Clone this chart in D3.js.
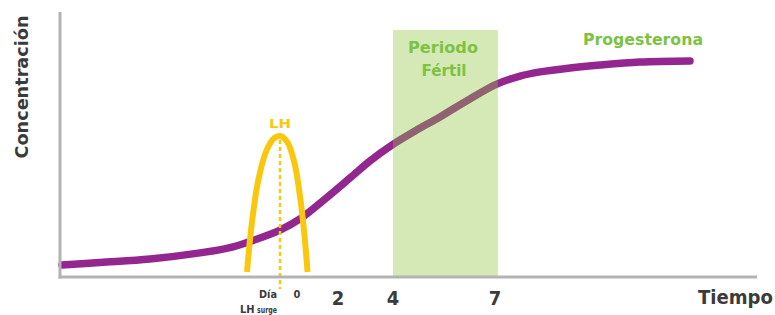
<!DOCTYPE html>
<html><head><meta charset="utf-8">
<script src="https://cdn.jsdelivr.net/npm/d3@7"></script>
<style>
html,body{margin:0;padding:0;background:#fff;}
text{font-family:"DejaVu Sans Condensed","DejaVu Sans",sans-serif;font-weight:bold;}
</style></head>
<body><svg id="chart" width="775" height="315"></svg>
<script>
// ---- data ----
const progDays   = [-7.93, -6.55, -4.73, -2.91, -1.82, -1.09, 0, 0.69, 1.55, 2.44, 3.16, 3.96, 4.65, 5.38, 6.26, 7.06, 7.86, 8.55, 9.58, 10.61, 11.98, 13.7];
const progValues = [4.5, 5.5, 6.8, 9.1, 11.1, 13.4, 17.7, 21.9, 29.4, 37.4, 43.8, 49.8, 55.1, 60.4, 67.2, 72.8, 75.8, 77.4, 78.9, 80.0, 81.1, 81.5];
const lhDays   = [-1.2, -1.05, -0.8, -0.5, -0.2, 0, 0.25, 0.5, 0.72, 0.85, 0.95];
const lhValues = [1.9, 18, 36, 47.5, 52.5, 53.2, 51, 43, 28, 15, 1.9];
const tickDays   = [2, 4, 7];
const tickLabels = ["2", "4", "7"];
const dayZeroLabel = ["Día", "0"];
const surgeLabel = ["LH", "surge"];
const fertileWindow = [4, 7.1];
const labels = {y: "Concentración", x: "Tiempo", prog: "Progesterona", lh: "LH", fertile: ["Periodo", "Fértil"]};

// ---- scales ----
const svg = d3.select("#chart");
const x = d3.scaleLinear().domain([-8, 0, 2, 4, 7, 16]).range([60, 280, 338, 393, 495, 757]);
const y = d3.scaleLinear().domain([0, 100]).range([277, 12]);

const purple = "#93278f", yellow = "#f9c80e", green = "#7dc242", axisCol = "#b3b3b3", dark = "#3b3b3b";

// progesterone curve
svg.append("path")
  .datum(progDays.map((d, i) => [d, progValues[i]]))
  .attr("fill", "none").attr("stroke", purple).attr("stroke-width", 7.5).attr("stroke-linecap", "round")
  .attr("d", d3.line().x(d => x(d[0])).y(d => y(d[1])).curve(d3.curveCatmullRom.alpha(0.5)));

// fertile window (translucent over curve)
svg.append("rect")
  .attr("x", x(fertileWindow[0])).attr("y", 30)
  .attr("width", x(fertileWindow[1]) - x(fertileWindow[0])).attr("height", y(0) - 30)
  .attr("fill", "#8dc63f").attr("opacity", 0.38);

// LH curve
svg.append("path")
  .datum(lhDays.map((d, i) => [d, lhValues[i]]))
  .attr("fill", "none").attr("stroke", yellow).attr("stroke-width", 6)
  .attr("d", d3.line().x(d => x(d[0])).y(d => y(d[1])).curve(d3.curveCatmullRom));

// dashed LH surge line
svg.append("line")
  .attr("x1", x(0)).attr("x2", x(0)).attr("y1", y(d3.max(lhValues)) + 4).attr("y2", 289)
  .attr("stroke", yellow).attr("stroke-width", 2.5).attr("stroke-dasharray", "4,3");

// axes
svg.append("line").attr("x1", 60).attr("x2", 60).attr("y1", y(100)).attr("y2", y(0) + 1.5)
  .attr("stroke", axisCol).attr("stroke-width", 3);
svg.append("line").attr("x1", 58.5).attr("x2", 757).attr("y1", y(0)).attr("y2", y(0))
  .attr("stroke", axisCol).attr("stroke-width", 3);

// tick labels
svg.selectAll(".tick").data(tickDays).enter().append("text")
  .attr("x", d => x(d)).attr("y", 305).attr("text-anchor", "middle")
  .attr("font-size", 20).attr("fill", dark).text((d, i) => tickLabels[i]);
svg.append("text").attr("x", x(0) - 12).attr("y", 298).attr("text-anchor", "middle")
  .attr("font-size", 11).attr("fill", dark).attr("textLength", 18).attr("lengthAdjust", "spacingAndGlyphs").text(dayZeroLabel[0]);
svg.append("text").attr("x", x(0) + 17).attr("y", 298).attr("text-anchor", "middle")
  .attr("font-size", 11).attr("fill", dark).text(dayZeroLabel[1]);
svg.append("text").attr("x", 240).attr("y", 313).attr("font-size", 11).attr("fill", dark).text(surgeLabel[0]);
svg.append("text").attr("x", 257).attr("y", 313).attr("font-size", 9).attr("fill", dark)
  .attr("textLength", 20).attr("lengthAdjust", "spacingAndGlyphs").text(surgeLabel[1]);

// axis titles
svg.append("text").attr("transform", "translate(28,87) rotate(-90)").attr("text-anchor", "middle")
  .attr("font-size", 17).attr("fill", dark).attr("textLength", 143).attr("lengthAdjust", "spacingAndGlyphs").text(labels.y);
svg.append("text").attr("x", 698).attr("y", 304).attr("font-size", 19).attr("fill", dark)
  .attr("textLength", 75).attr("lengthAdjust", "spacingAndGlyphs").text(labels.x);

// series labels
svg.append("text").attr("x", 583).attr("y", 45).attr("font-size", 15).attr("fill", green)
  .attr("textLength", 120).attr("lengthAdjust", "spacingAndGlyphs").text(labels.prog);
svg.append("text").attr("x", x(0)).attr("y", y(d3.max(lhValues)) - 8).attr("text-anchor", "middle")
  .attr("font-size", 12).attr("fill", yellow).attr("textLength", 22).attr("lengthAdjust", "spacingAndGlyphs").text(labels.lh);
svg.append("text").attr("x", 443).attr("y", 53).attr("text-anchor", "middle").attr("font-size", 15).attr("fill", green)
  .attr("textLength", 70).attr("lengthAdjust", "spacingAndGlyphs").text(labels.fertile[0]);
svg.append("text").attr("x", 444).attr("y", 76).attr("text-anchor", "middle").attr("font-size", 15).attr("fill", green)
  .attr("textLength", 45).attr("lengthAdjust", "spacingAndGlyphs").text(labels.fertile[1]);
</script></body></html>
